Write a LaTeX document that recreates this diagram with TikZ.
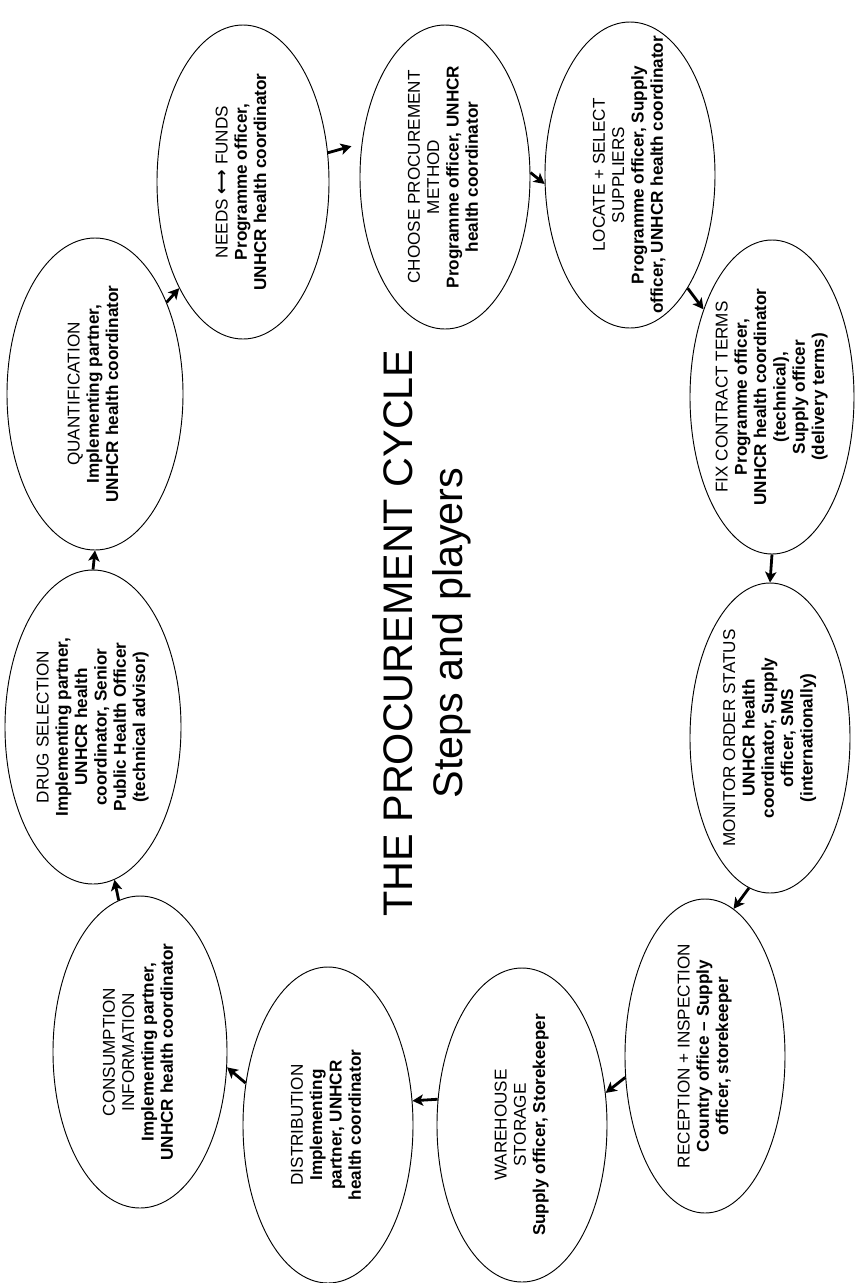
\documentclass[tikz,border=0pt]{standalone}
\usepackage{fontspec}
\setmainfont{Liberation Sans}
\newfontfamily\arrowfont{DejaVu Sans}
\usetikzlibrary{arrows.meta,shapes.geometric}
\tikzset{
  stage/.style 2 args={draw, line width=0.7pt, ellipse, inner sep=-30pt,
    minimum width=#1*1.5pt, minimum height=#2*1.5pt,
    font=\fontsize{12.85}{14.5}\selectfont},
  flow/.style={line width=2.1pt, -{Stealth[length=8pt,width=8.5pt,inset=2pt]}},
  heading/.style={font=\fontsize{31}{37.5}\selectfont, align=center}
}
\newcommand{\stagetext}[1]{\rotatebox{90}{\begin{tabular}{@{}c@{}}#1\end{tabular}}}
\begin{document}
\begin{tikzpicture}[x=0.75pt, y=-0.75pt]
\fill[white] (0,0) rectangle (863,1283);
\useasboundingbox (0,0) rectangle (863,1283);

% stages of the cycle, clockwise from the top
\node[stage={86}{157}] (needs) at (243,182) {\stagetext{NEEDS {\arrowfont\bfseries ⟷} FUNDS\\ \bfseries Programme officer,\\ \bfseries UNHCR health coordinator}};
\node[stage={85}{152}] (choose) at (445,177) {\stagetext{CHOOSE PROCUREMENT\\ METHOD\\ \bfseries Programme officer, UNHCR\\ \bfseries health coordinator}};
\node[stage={85}{153}] (locate) at (630,175) {\stagetext{LOCATE + SELECT\\ SUPPLIERS\\ \bfseries Programme officer, Supply\\ \bfseries officer, UNHCR health coordinator}};
\node[stage={82}{157}] (fix) at (772,397) {\stagetext{FIX CONTRACT TERMS\\ \bfseries Programme officer,\\ \bfseries UNHCR health coordinator\\ \bfseries (technical),\\ \bfseries Supply officer\\ \bfseries (delivery terms)}};
\node[stage={80}{155}] (monitor) at (770,738) {\stagetext{MONITOR ORDER STATUS\\ \bfseries UNHCR health\\ \bfseries coordinator, Supply\\ \bfseries officer, SMS\\ \bfseries (internationally)}};
\node[stage={80}{157}] (reception) at (705,1056) {\stagetext{RECEPTION + INSPECTION\\ \bfseries Country office -- Supply\\ \bfseries officer, storekeeper}};
\node[stage={85}{157}] (warehouse) at (522,1125) {\stagetext{WAREHOUSE\\ STORAGE\\ \bfseries Supply officer, Storekeeper}};
\node[stage={85}{158}] (distribution) at (328,1125) {\stagetext{DISTRIBUTION\\ \bfseries Implementing\\ \bfseries partner, UNHCR\\ \bfseries health coordinator}};
\node[stage={87}{156}] (consumption) at (140,1052) {\stagetext{CONSUMPTION\\ INFORMATION\\ \bfseries Implementing partner,\\ \bfseries UNHCR health coordinator}};
\node[stage={88}{157}] (drug) at (93,727) {\stagetext{DRUG SELECTION\\ \bfseries Implementing partner,\\ \bfseries UNHCR health\\ \bfseries coordinator, Senior\\ \bfseries Public Health Officer\\ \bfseries (technical advisor)}};
\node[stage={88}{156}] (quant) at (95,394) {\stagetext{QUANTIFICATION\\ \bfseries Implementing partner,\\ \bfseries UNHCR health coordinator}};

% title in the middle of the ring
\node[heading, rotate=90] (title) at (427,633) {THE PROCUREMENT CYCLE\\ Steps and players};

% arrows between consecutive stages
\draw[flow] (quant.52) -- (needs.239);
\draw[flow, shorten >=8pt] (needs.19) -- (choose.158);
\draw[flow] (choose.3) -- (locate.186);
\draw[flow] (locate.-63) -- (fix.128);
\draw[flow] (fix.-90) -- (monitor.90);
\draw[flow] (monitor.262) -- (reception.79);
\draw[flow] (reception.195) -- (warehouse.21);
\draw[flow] (warehouse.163) -- (distribution.16);
\draw[flow] (distribution.153) -- (consumption.-10);
\draw[flow] (consumption.98) -- (drug.-82);
\draw[flow] (drug.90) -- (quant.-90);
\end{tikzpicture}
\end{document}
